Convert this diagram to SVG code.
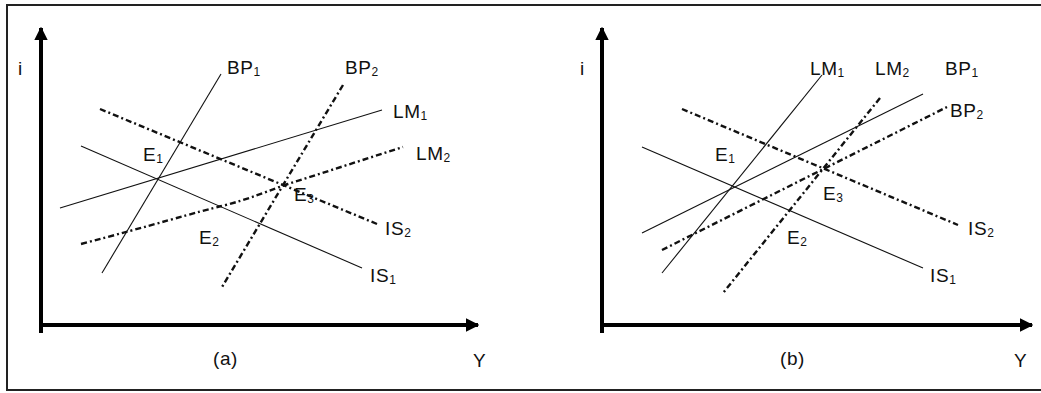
<svg xmlns="http://www.w3.org/2000/svg" width="1041" height="393" viewBox="0 0 1041 393">
<style>
text{font-family:"Liberation Sans",Arial,sans-serif;font-size:19px;fill:#111;letter-spacing:0.6px}
.sub{font-size:12px}
.thin{fill:none;stroke:#111;stroke-width:1.1}
.dd{fill:none;stroke:#111;stroke-width:2.4;stroke-dasharray:6 3 2 3}
.axis{fill:none;stroke:#000;stroke-width:4}
.frame{fill:none;stroke:#222;stroke-width:2}
</style>
<defs>
<marker id="ah" viewBox="0 0 10 10" refX="9" refY="5" markerWidth="3.4" markerHeight="3.4" orient="auto" markerUnits="strokeWidth">
<path d="M0,0 L10,5 L0,10 Z" fill="#000"/>
</marker>
</defs>
<rect width="1041" height="393" fill="#fff"/>
<rect class="frame" x="7" y="5" width="1040" height="385"/>

<g id="panel-a">
  <g id="axes-a">
    <path class="axis" d="M41,333 V28" marker-end="url(#ah)"/>
    <path class="axis" d="M41,325 H478" marker-end="url(#ah)"/>
    <text x="18" y="75">i</text>
    <text x="473" y="367">Y</text>
    <text x="213" y="365">(a)</text>
  </g>
  <g id="a-BP1"><path class="thin" d="M221,74 L102,273"/><text x="227" y="74">BP<tspan class="sub" dy="2">1</tspan></text></g>
  <g id="a-BP2"><path class="dd" d="M343,85 L222,287"/><text x="345" y="74">BP<tspan class="sub" dy="2">2</tspan></text></g>
  <g id="a-LM1"><path class="thin" d="M60,208 L382,110"/><text x="393" y="118">LM<tspan class="sub" dy="2">1</tspan></text></g>
  <g id="a-LM2"><path class="dd" d="M81,244 C150,226 200,211 222,206 C250,199 270,190 288,184 L403,147"/><text x="416" y="160">LM<tspan class="sub" dy="2">2</tspan></text></g>
  <g id="a-IS1"><path class="thin" d="M81,146 L362,268"/><text x="370" y="282">IS<tspan class="sub" dy="2">1</tspan></text></g>
  <g id="a-IS2"><path class="dd" d="M100,109 L377,224"/><text x="385" y="235">IS<tspan class="sub" dy="2">2</tspan></text></g>
  <g id="a-E1"><text x="143" y="161">E<tspan class="sub" dy="2">1</tspan></text></g>
  <g id="a-E2"><text x="199" y="244">E<tspan class="sub" dy="2">2</tspan></text></g>
  <g id="a-E3"><text x="294" y="201">E<tspan class="sub" dy="2">3</tspan></text></g>
</g>

<g id="panel-b">
  <g id="axes-b">
    <path class="axis" d="M602,333 V28" marker-end="url(#ah)"/>
    <path class="axis" d="M602,325 H1032" marker-end="url(#ah)"/>
    <text x="580" y="75">i</text>
    <text x="1014" y="367">Y</text>
    <text x="780" y="365">(b)</text>
  </g>
  <g id="b-LM1"><path class="thin" d="M822,75 L662,273"/><text x="810" y="75">LM<tspan class="sub" dy="2">1</tspan></text></g>
  <g id="b-LM2"><path class="dd" d="M880,98 L723,293"/><text x="875" y="75">LM<tspan class="sub" dy="2">2</tspan></text></g>
  <g id="b-BP1"><path class="thin" d="M642,233 L923,94"/><text x="945" y="75">BP<tspan class="sub" dy="2">1</tspan></text></g>
  <g id="b-BP2"><path class="dd" d="M662,250 L947,107"/><text x="950" y="117">BP<tspan class="sub" dy="2">2</tspan></text></g>
  <g id="b-IS1"><path class="thin" d="M642,147 L923,268"/><text x="930" y="282">IS<tspan class="sub" dy="2">1</tspan></text></g>
  <g id="b-IS2"><path class="dd" d="M682,109 L958,225"/><text x="968" y="235">IS<tspan class="sub" dy="2">2</tspan></text></g>
  <g id="b-E1"><text x="715" y="161">E<tspan class="sub" dy="2">1</tspan></text></g>
  <g id="b-E2"><text x="787" y="244">E<tspan class="sub" dy="2">2</tspan></text></g>
  <g id="b-E3"><text x="823" y="200">E<tspan class="sub" dy="2">3</tspan></text></g>
</g>
</svg>
